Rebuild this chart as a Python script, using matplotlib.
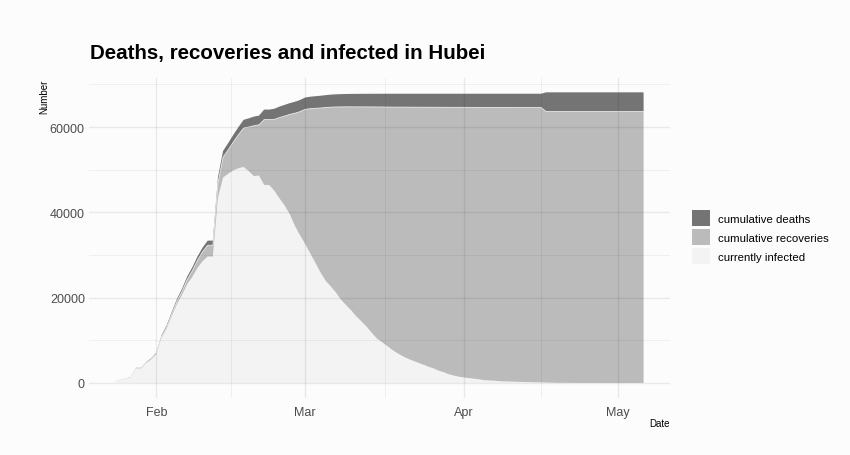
import numpy as np
import pandas as pd
import matplotlib
matplotlib.use("Agg")
import matplotlib.pyplot as plt
import matplotlib.dates as mdates
from matplotlib.patches import Patch

plt.rcParams['font.family'] = ['Liberation Sans', 'DejaVu Sans']

# Hubei, daily, 2020-01-24 .. 2020-05-06
dates = pd.date_range("2020-01-24", "2020-05-06", freq="D")

confirmed = [549, 761, 1058, 1423, 3554, 3554, 4903, 5806,
             7153, 11177, 13522, 16678, 19665, 22112, 24953, 27100, 29631, 31728,
             33366, 33366, 48206, 54406, 56249, 58182, 59989, 61682, 62031, 62442,
             62662, 64084, 64084, 64287, 64786, 65187, 65596, 65914, 66337,
             66907, 67103, 67217, 67332, 67466, 67592, 67666, 67707, 67743, 67760,
             67773, 67781, 67786, 67790, 67794, 67798, 67799, 67800, 67800, 67800,
             67800, 67800, 67800, 67801, 67801, 67801, 67801, 67801, 67801, 67801, 67802,
             67802, 67802, 67802, 67802, 67803, 67803, 67803, 67803, 67803, 67803,
             67803, 67803, 67803, 67803, 67803, 67803,
             68128, 68128, 68128, 68128, 68128, 68128, 68128, 68128, 68128, 68128,
             68128, 68128, 68128, 68128,
             68128, 68128, 68128, 68128, 68128, 68128]

deaths = [24, 40, 52, 76, 125, 125, 162, 204,
          249, 350, 414, 479, 549, 618, 699, 780, 871, 974, 1068, 1068, 1310,
          1457, 1596, 1696, 1789, 1921, 2029, 2144, 2144, 2346, 2346, 2495, 2563,
          2615, 2641, 2682, 2727,
          2761, 2803, 2835, 2871, 2902, 2931, 2959, 2986, 3008, 3024, 3046, 3056,
          3062, 3075, 3085, 3099, 3111, 3122, 3130, 3133, 3139, 3153, 3153, 3160,
          3163, 3169, 3174, 3177, 3182, 3186, 3187,
          3193, 3199, 3203, 3207, 3210, 3212, 3212, 3213, 3215, 3216, 3219, 3219,
          3221, 3221, 3222, 3222,
          4512, 4512, 4512, 4512, 4512, 4512, 4512, 4512, 4512, 4512, 4512, 4512,
          4512, 4512,
          4512, 4512, 4512, 4512, 4512, 4512]

recovered = [31, 32, 42, 45, 80, 88, 90, 141,
             168, 295, 386, 522, 633, 817, 1115, 1439, 1795, 2222, 2639, 2686, 3459,
             4774, 5623, 6639, 7862, 9128, 10337, 11788, 11881, 15299, 15343, 16748,
             18971, 20969, 23383, 26403, 28993,
             31536, 33934, 36208, 38557, 40592, 42033, 43500, 45235, 46488, 47743,
             49134, 50318, 51553, 52960, 54288, 55142, 56003, 56927, 57682, 58382,
             58946, 59433, 59882, 60324, 60811, 61201, 61732, 62098, 62570, 62889, 63153,
             63326, 63471, 63612, 63762, 63945, 64014, 64073, 64187, 64236, 64264,
             64294, 64338, 64366, 64392, 64420, 64435,
             63507, 63541, 63569, 63580, 63586, 63590, 63595, 63601, 63607, 63612,
             63612, 63614, 63616, 63616,
             63616, 63616, 63616, 63616, 63616, 63616]

confirmed = np.array(confirmed)
deaths = np.array(deaths)
recovered = np.array(recovered)
infected = confirmed - deaths - recovered

labels = ["cumulative deaths", "cumulative recoveries", "currently infected"]
colors = ["#747474", "#bbbbbb", "#f3f3f3"]
bg = "#fcfcfc"

fig = plt.figure(figsize=(8.5, 4.56), dpi=100, facecolor=bg)
ax = fig.add_axes([89 / 850, 1 - 398.5 / 456, 581 / 850, 319.7 / 456])
ax.set_facecolor(bg)

# stacked: infected at bottom, recoveries, deaths on top
ax.stackplot(dates, infected, recovered, deaths,
             colors=[colors[2], colors[1], colors[0]], linewidth=0, zorder=1)
# thin light seam between recoveries and deaths
ax.plot(dates, infected + recovered, color="white", lw=0.6, alpha=0.7, zorder=2)

pad = pd.Timedelta(days=0.05 * (dates[-1] - dates[0]).days)
ax.set_xlim(dates[0] - pad, dates[-1] + pad)
top = confirmed.max()
ax.set_ylim(-0.05 * top, 1.05 * top)

ax.xaxis.set_major_locator(mdates.MonthLocator())
ax.xaxis.set_major_formatter(mdates.DateFormatter("%b"))
ax.set_yticks([0, 20000, 40000, 60000])

# ggplot-like grid drawn over the areas
xmaj = [d for d in ax.get_xticks()]
xmin = [(a + b) / 2 for a, b in zip(xmaj[:-1], xmaj[1:])]
for x in xmaj:
    ax.axvline(x, color="black", alpha=0.075, lw=1.0, zorder=3)
for x in xmin:
    ax.axvline(x, color="black", alpha=0.06, lw=0.6, zorder=3)
for y in [0, 20000, 40000, 60000]:
    ax.axhline(y, color="black", alpha=0.075, lw=1.0, zorder=3)
for y in [10000, 30000, 50000, 70000]:
    ax.axhline(y, color="black", alpha=0.06, lw=0.6, zorder=3)

for s in ax.spines.values():
    s.set_visible(False)
ax.tick_params(length=0, labelsize=9, colors="#4d4d4d")
ax.tick_params(axis="x", pad=6)
ax.tick_params(axis="y", pad=3)

fig.text(90 / 850, 1 - 58.5 / 456, "Deaths, recoveries and infected in Hubei",
         fontsize=14.8, fontweight="bold", color="black", ha="left", va="baseline")
fig.text(44 / 850, 1 - 80 / 456, "Number", rotation=90, fontsize=7,
         ha="center", va="top", color="black")
fig.text(670 / 850, 1 - 424 / 456, "Date", fontsize=7, ha="right",
         va="center", color="black")

handles = [Patch(facecolor=c, edgecolor="none") for c in colors]
fig.legend(handles, labels, loc="center left",
           bbox_to_anchor=(692 / 850, 1 - 238 / 456), frameon=False,
           fontsize=8.2, handlelength=1.55, handleheight=1.8,
           labelspacing=0.25, handletextpad=0.7, borderpad=0, borderaxespad=0)

fig.savefig("out.png", dpi=100, facecolor=bg)
